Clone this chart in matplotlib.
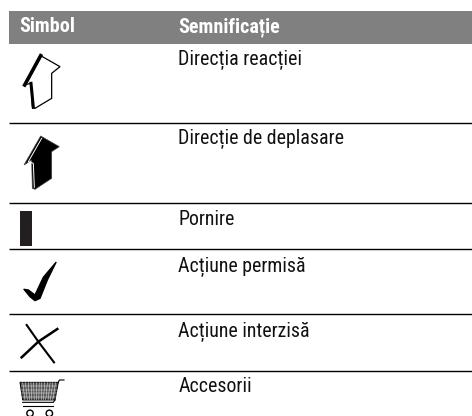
import matplotlib
matplotlib.use('Agg')
import matplotlib.pyplot as plt
from matplotlib.patches import Polygon, Rectangle, Circle

plt.rcParams['font.family'] = ['Roboto Condensed', 'Roboto', 'DejaVu Sans']

# Tabelul de simboluri
headers = ['Simbol', 'Semnificație']
meanings = ['Direcția reacției', 'Direcție de deplasare', 'Pornire',
            'Acțiune permisă', 'Acțiune interzisă', 'Accesorii']
baselines = [65, 144, 225, 272, 336.5, 392.5]
rule_rows = [123, 203, 249, 314, 371]

fig = plt.figure(figsize=(4.72, 4.16), dpi=100)
ax = fig.add_axes([0, 0, 1, 1])
ax.set_xlim(0, 472)
ax.set_ylim(416, 0)
ax.axis('off')

# Antet
ax.add_patch(Rectangle((9, 11), 463, 33, fc='#808080', ec='none'))
ax.text(19.5, 32.5, headers[0], color='white', fontsize=14.5, fontweight='bold', va='baseline')
ax.text(178, 32.5, headers[1], color='white', fontsize=14.5, fontweight='bold', va='baseline')

# Randuri
for y in rule_rows:
    ax.plot([9, 472], [y, y], color='black', lw=1.0, solid_capstyle='butt')
for y, text in zip(baselines, meanings):
    ax.text(178.5, y, text, color='#111111', fontsize=14.3, va='baseline')


def zoomed(points, dy=0):
    # coordonate citite din crop-ul marit de 3 ori
    return [(x / 3, y / 3 + dy) for x, y in points]


# Sageata goala
arrow1 = [(122, 167), (180, 200), (155, 220), (155, 295), (105, 325), (97, 320), (93, 250), (72, 255)]
ax.add_patch(Polygon(zoomed(arrow1), fc='white', ec='black', lw=0.9))
ax.plot(*zip(*zoomed([(122, 167), (74, 255)])), color='black', lw=2.6)
ax.plot(*zip(*zoomed([(93, 250), (100, 322)])), color='black', lw=2.2)

# Sageata plina
arrow2 = [(122, 408), (178, 440), (155, 455), (155, 535), (105, 568), (97, 565), (95, 480), (72, 495)]
ax.add_patch(Polygon(zoomed(arrow2), fc='black', ec='#444444', lw=0.5))
ax.plot(*zip(*zoomed([(125, 415), (85, 485), (100, 490), (103, 562)])), color='white', lw=0.7)

# Pornire
ax.add_patch(Rectangle((19.5, 211), 12.5, 35, fc='#231f20', ec='none'))

# Bifa
check = [(72, 268), (85, 270), (105, 285), (130, 232), (168, 187),
         (142, 240), (120, 295), (105, 302), (90, 290)]
ax.add_patch(Polygon(zoomed(check, 200), fc='black', ec='black', lw=1, joinstyle='round'))

# X
ax.plot(*zip(*zoomed([(80, 375), (115, 425), (162, 487)], 200)), color='black', lw=1.5)
ax.plot(*zip(*zoomed([(65, 472), (115, 425), (172, 387)], 200)), color='black', lw=1.8)

# Cos de cumparaturi
basket = [(60, 547), (175, 547), (165, 600), (68, 600)]
ax.add_patch(Polygon(zoomed(basket, 200), fc='#555555', ec='black', lw=0.7))
for k in range(1, 14):
    xa = 60 + k * 115 / 14
    xb = 68 + k * 97 / 14
    ax.plot(*zip(*zoomed([(xa, 547), (xb, 600)], 200)), color='white', lw=0.3)
for yy in [558, 569, 580, 591]:
    ax.plot(*zip(*zoomed([(62, yy), (172, yy)], 200)), color='white', lw=0.3)
ax.plot(*zip(*zoomed([(175, 547), (178, 540), (192, 540)], 200)), color='black', lw=0.8)
ax.plot(*zip(*zoomed([(68, 607), (160, 607), (165, 600)], 200)), color='black', lw=0.8)
ax.plot(*zip(*zoomed([(70, 619), (160, 619)], 200)), color='black', lw=0.8)
for cx in [90, 148]:
    ax.add_patch(Circle((cx / 3, 640 / 3 + 200), 3.2, fc='white', ec='black', lw=1))

fig.savefig('out.png', dpi=100)
